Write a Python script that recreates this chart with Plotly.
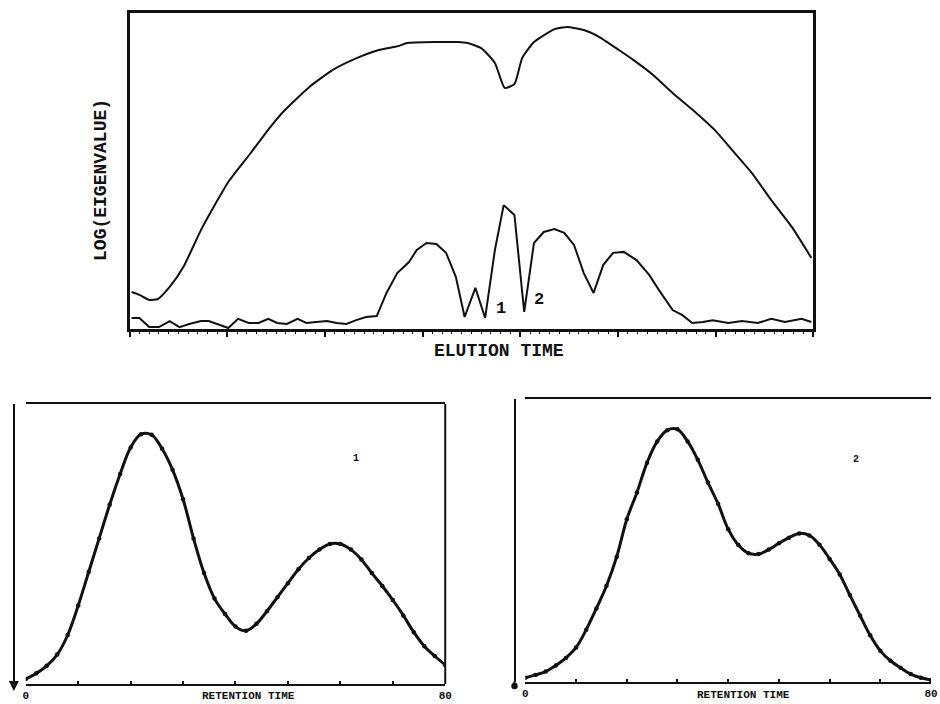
import plotly.graph_objects as go

# ---- Eigenvalue profiles along the elution axis ----
eig1_t = [0.2, 1.0, 2.0, 2.9, 4.1, 5.5, 7.3, 8.6, 10.1, 12.4, 14.4, 15.9, 18.4, 20.8,
          23.3, 25.5, 27.6, 28.4, 31.3, 33.6, 34.6, 36.0, 37.4, 38.4, 39.4, 40.2, 41.4,
          43.5, 44.8, 46.5, 48.1, 50.1, 51.6, 53.6, 55.6, 57.9, 59.9, 61.7, 63.7, 65.7,
          67.8, 69.8]
eig1_v = [11.7, 10.8, 9.2, 9.5, 13.3, 19.6, 31.3, 38.6, 46.5, 55.7, 63.9, 69.3, 76.6, 82.0,
          85.8, 88.3, 89.6, 90.5, 90.8, 90.8, 90.5, 88.9, 84.2, 76.3, 77.5, 85.8, 90.8,
          94.9, 95.6, 94.6, 92.4, 88.3, 85.1, 80.4, 74.7, 68.7, 63.0, 56.6, 49.4, 40.8,
          32.3, 22.5]

eig2_t = [0.2, 1.0, 2.0, 3.0, 4.1, 5.1, 6.1, 7.3, 8.1, 9.1, 10.1, 11.1, 12.2, 13.2, 14.2,
          15.1, 16.1, 17.2, 18.1, 19.1, 20.2, 21.2, 22.2, 23.2, 24.2, 25.3, 26.3, 27.4,
          28.6, 29.4, 30.4, 31.4, 32.4, 33.4, 34.3, 35.4, 36.4, 37.4, 38.3, 39.4, 40.4,
          41.4, 42.4, 43.5, 44.5, 45.5, 46.5, 47.5, 48.5, 49.5, 50.6, 51.9, 53.2, 54.2,
          55.6, 56.6, 57.6, 58.7, 59.7, 61.3, 62.7, 64.3, 65.7, 67.1, 68.8, 69.8]
eig2_v = [3.5, 3.5, 0.6, 0.6, 2.5, 0.6, 1.6, 2.5, 2.5, 1.3, 0.3, 3.2, 1.9, 1.9, 3.2,
          1.9, 1.6, 3.2, 1.9, 2.2, 2.5, 1.9, 1.6, 2.8, 3.8, 4.1, 11.4, 17.7,
          21.2, 25.0, 27.2, 26.9, 24.1, 16.5, 3.8, 13.0, 3.5, 25.0, 39.2, 36.1, 5.4,
          27.2, 30.7, 31.6, 30.4, 26.6, 17.7, 11.4, 20.3, 24.1, 24.4, 21.8, 17.1, 12.3,
          6.0, 4.4, 1.9, 2.2, 2.8, 1.9, 2.5, 1.9, 3.2, 2.2, 3.2, 2.2]

# ---- Resolved chromatograms for windows 1 and 2 ----
ret_time = [0, 2, 4, 6, 8, 10, 12, 14, 16, 18, 20, 22, 24, 26, 28, 30, 32, 34, 36, 38, 40,
            42, 44, 46, 48, 50, 52, 54, 56, 58, 60, 62, 64, 66, 68, 70, 72, 74, 76, 78, 80]
chrom1 = [1.8, 3.8, 6.5, 10.5, 17.5, 28.0, 40.0, 52.0, 64.0, 75.0, 84.5, 89.2, 89.0, 84.0,
          76.5, 66.0, 52.0, 39.6, 30.5, 25.0, 20.5, 19.0, 21.5, 26.0, 31.0, 36.0, 41.0,
          45.0, 48.0, 50.0, 50.0, 48.0, 44.5, 39.6, 35.0, 30.0, 24.5, 18.5, 13.5, 10.0, 6.8]
chrom2 = [1.5, 2.5, 3.7, 5.8, 8.5, 12.2, 18.5, 26.0, 34.0, 44.2, 57.5, 67.0, 77.5, 85.0,
          89.0, 89.3, 85.0, 78.5, 70.5, 63.0, 54.0, 48.4, 45.5, 45.2, 46.8, 49.0, 51.0,
          52.5, 51.8, 48.5, 43.5, 38.0, 30.7, 23.5, 16.5, 11.0, 7.5, 5.0, 2.8, 1.5, 0.7]

MONO = "Liberation Mono"
INK = "#111111"

fig = go.Figure()

fig.add_trace(go.Scatter(x=eig1_t, y=eig1_v, mode="lines",
                         line=dict(color=INK, width=2, shape="spline", smoothing=0.5),
                         xaxis="x", yaxis="y"))
fig.add_trace(go.Scatter(x=eig2_t, y=eig2_v, mode="lines",
                         line=dict(color=INK, width=2), xaxis="x", yaxis="y"))

fig.add_trace(go.Scatter(x=ret_time, y=chrom1, mode="lines+markers",
                         line=dict(color=INK, width=3, shape="spline"),
                         marker=dict(color=INK, size=4.5),
                         xaxis="x2", yaxis="y2"))
fig.add_trace(go.Scatter(x=ret_time, y=chrom2, mode="lines+markers",
                         line=dict(color=INK, width=3, shape="spline"),
                         marker=dict(color=INK, size=4.5),
                         xaxis="x3", yaxis="y3"))

W, H = 940, 704


def px(x):
    return x / W


def py(y):
    return 1 - y / H


bottom_ticks = [0, 10, 20, 30, 40, 50, 60, 70, 80]
bottom_text = ["0", "", "", "", "", "", "", "", "80"]

fig.update_layout(
    width=W, height=H,
    margin=dict(l=0, r=0, t=0, b=0),
    paper_bgcolor="white", plot_bgcolor="white",
    showlegend=False,
    # upper panel
    xaxis=dict(domain=[px(128), px(819)], range=[0, 70], anchor="y",
               showline=True, linecolor=INK, linewidth=2.5, mirror=True,
               showgrid=False, zeroline=False,
               ticks="outside", ticklen=5, tickwidth=2, tickcolor=INK,
               tickvals=[0, 10, 20, 30, 40, 50, 60, 70], showticklabels=False,
               minor=dict(dtick=1, ticks="outside", ticklen=2, tickwidth=1, tickcolor=INK)),
    yaxis=dict(domain=[py(329), py(13)], range=[0, 100], anchor="x",
               showline=True, linecolor=INK, linewidth=2.5, mirror=True,
               showgrid=False, zeroline=False, ticks="", showticklabels=False),
    # lower-left panel
    xaxis2=dict(domain=[px(23), px(447)], range=[0, 80], anchor="y2",
                showline=True, linecolor=INK, linewidth=2, mirror=True,
                showgrid=False, zeroline=False,
                ticks="inside", ticklen=3, tickwidth=1.5, tickcolor=INK,
                tickvals=bottom_ticks, ticktext=bottom_text,
                tickfont=dict(family=MONO, size=11, color=INK, weight="bold")),
    yaxis2=dict(domain=[py(684), py(404)], range=[0, 100], anchor="free",
                position=px(11), showline=True, linecolor=INK, linewidth=2,
                showgrid=False, zeroline=False, ticks="", showticklabels=False),
    # lower-right panel
    xaxis3=dict(domain=[px(528), px(938)], range=[0, 80], anchor="y3",
                showline=True, linecolor=INK, linewidth=2, mirror=True,
                showgrid=False, zeroline=False,
                ticks="inside", ticklen=3, tickwidth=1.5, tickcolor=INK,
                tickvals=bottom_ticks, ticktext=bottom_text,
                tickfont=dict(family=MONO, size=11, color=INK, weight="bold")),
    yaxis3=dict(domain=[py(682), py(399)], range=[0, 100], anchor="free",
                position=px(517), showline=True, linecolor=INK, linewidth=2,
                showgrid=False, zeroline=False, ticks="", showticklabels=False),
)

# right border of the lower-left frame
fig.add_shape(type="line", xref="x2 domain", yref="y2 domain",
              x0=1, x1=1, y0=0, y1=1, line=dict(color=INK, width=2))

label_font = dict(family=MONO, size=18, color=INK, weight="bold")
small_font = dict(family=MONO, size=11, color=INK, weight="bold")

annotations = [
    dict(text="ELUTION TIME", xref="paper", yref="paper", x=px(501), y=py(351),
         showarrow=False, font=label_font, xanchor="center", yanchor="middle"),
    dict(text="LOG(EIGENVALUE)", xref="paper", yref="paper", x=px(99), y=py(180),
         showarrow=False, font=label_font, textangle=-90,
         xanchor="center", yanchor="middle"),
    dict(text="1", xref="x", yref="y", x=38.0, y=6.6, showarrow=False,
         font=dict(family=MONO, size=17, color=INK, weight="bold")),
    dict(text="2", xref="x", yref="y", x=41.9, y=9.2, showarrow=False,
         font=dict(family=MONO, size=17, color=INK, weight="bold")),
    dict(text="RETENTION TIME", xref="paper", yref="paper", x=px(248), y=py(696),
         showarrow=False, font=small_font, xanchor="center", yanchor="middle"),
    dict(text="RETENTION TIME", xref="paper", yref="paper", x=px(748), y=py(695),
         showarrow=False, font=small_font, xanchor="center", yanchor="middle"),
    dict(text="1", xref="x2", yref="y2", x=63.0, y=80.4, showarrow=False,
         font=dict(family=MONO, size=10, color=INK, weight="bold")),
    dict(text="2", xref="x3", yref="y3", x=65.2, y=78.8, showarrow=False,
         font=dict(family=MONO, size=10, color=INK, weight="bold")),
    # arrow tips at the foot of the lower vertical axes
    dict(text="", xref="paper", yref="paper", x=px(11), y=py(691),
         ax=0, ay=-8, showarrow=True, arrowhead=2, arrowsize=1, arrowwidth=2,
         arrowcolor=INK),
    dict(text="", xref="paper", yref="paper", x=px(517), y=py(686),
         ax=0, ay=-6, showarrow=True, arrowhead=6, arrowsize=0.8, arrowwidth=2,
         arrowcolor=INK),
]
fig.update_layout(annotations=annotations)

fig.write_html("out.html")
